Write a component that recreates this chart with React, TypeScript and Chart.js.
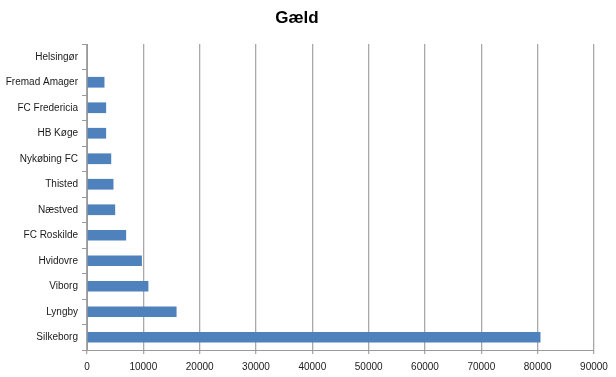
import React, { useEffect, useRef } from "react";
import { Chart, registerables } from "chart.js";

Chart.register(...registerables);

const clubs = [
  "Helsingør",
  "Fremad Amager",
  "FC Fredericia",
  "HB Køge",
  "Nykøbing FC",
  "Thisted",
  "Næstved",
  "FC Roskilde",
  "Hvidovre",
  "Viborg",
  "Lyngby",
  "Silkeborg",
];
const debt = [0, 3100, 3400, 3400, 4300, 4700, 5000, 6950, 9750, 10900, 15900, 80500];
const chartTitle = "Gæld";

export default function App() {
  const ref = useRef<HTMLCanvasElement | null>(null);
  useEffect(() => {
    document.body.style.margin = "0";
    const ctx = ref.current!;
    const chart = new Chart(ctx, {
      type: "bar",
      data: {
        labels: clubs,
        datasets: [
          {
            data: debt,
            backgroundColor: "#4F81BD",
            borderWidth: 0,
            barPercentage: 0.42,
            categoryPercentage: 1,
          },
        ],
      },
      options: {
        indexAxis: "y",
        animation: false,
        responsive: false,
        maintainAspectRatio: false,
        layout: { padding: { left: 0, right: 22, top: 0, bottom: 0 } },
        plugins: {
          legend: { display: false },
          tooltip: { enabled: false },
          title: {
            display: true,
            text: chartTitle,
            color: "#000000",
            font: { family: "'Liberation Sans', Arial, sans-serif", size: 17, weight: "bold" },
            padding: { top: 8, bottom: 15.6 },
          },
        },
        scales: {
          x: {
            min: 0,
            max: 90000,
            ticks: {
              stepSize: 10000,
              color: "#1a1a1a",
              font: { family: "'Liberation Sans', Arial, sans-serif", size: 10 },
              padding: 7,
              maxRotation: 0,
              callback: (v: any) => String(v),
            },
            grid: { color: "#a8a8a8", lineWidth: 1.3, tickLength: 4, drawTicks: true },
            border: { color: "#9a9a9a" },
            afterFit: (s: any) => {
              s.height = 27;
            },
          },
          y: {
            ticks: {
              color: "#1a1a1a",
              font: { family: "'Liberation Sans', Arial, sans-serif", size: 10 },
              padding: 4,
            },
            grid: { drawOnChartArea: false, drawTicks: true, tickLength: 5, color: "#9a9a9a", offset: true },
            border: { color: "#9a9a9a" },
            afterFit: (s: any) => {
              s.width = 87;
            },
          },
        },
      },
    });
    return () => chart.destroy();
  }, []);
  return <canvas ref={ref} width={616} height={377} style={{ display: "block" }} />;
}
